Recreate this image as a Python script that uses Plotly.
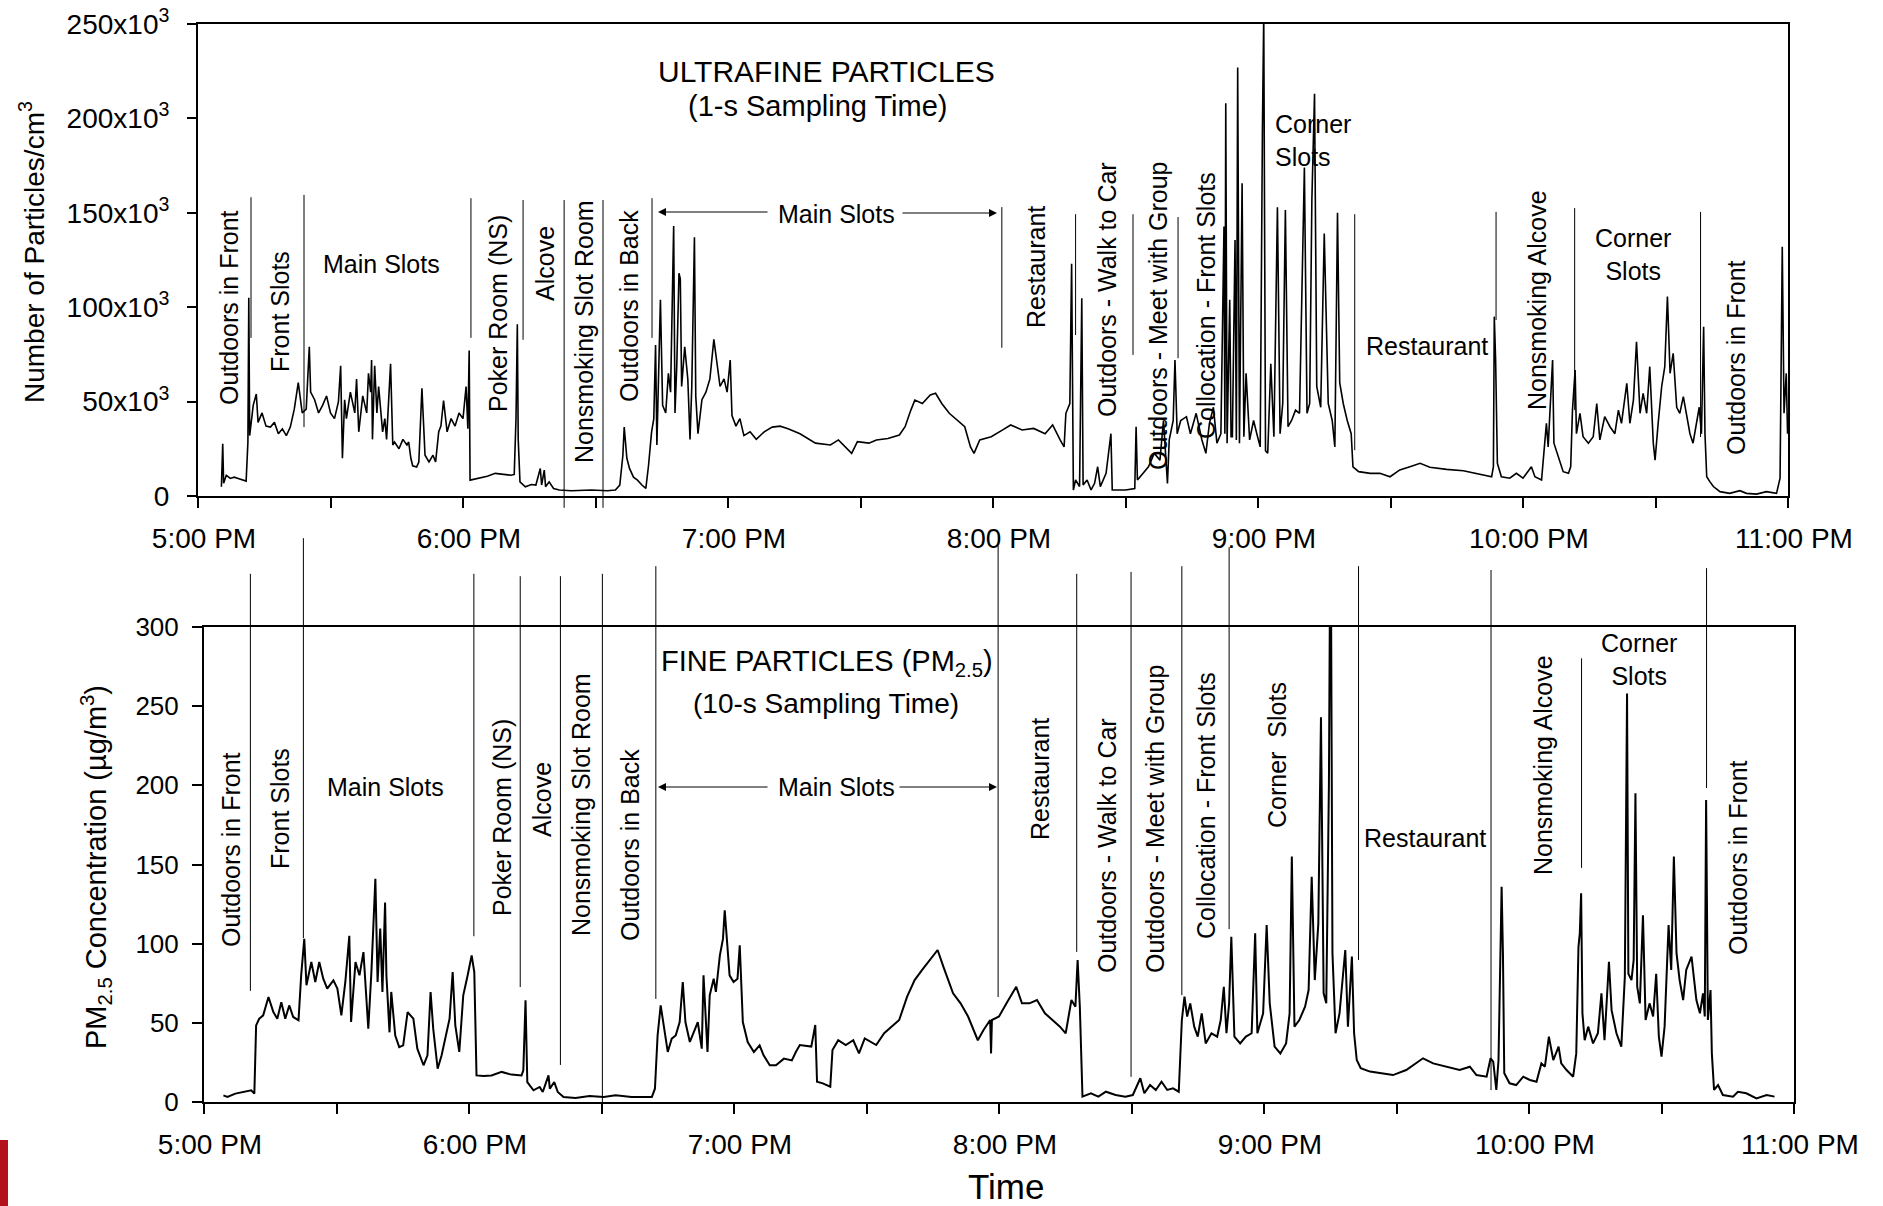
import pandas as pd
import plotly.graph_objects as go

W, H = 1883, 1206
START = pd.Timestamp("2024-01-01 17:00")
FONT = "Arial, Liberation Sans, sans-serif"

# Ultrafine particle counts: (minutes after 5:00 PM, particles/cm3 in thousands)
uf_readings = [
    (5.3, 4.9), (5.6, 27.7), (5.8, 6.7), (6.4, 11), (7.3, 9.3), (8.2, 10), (9.1, 9.3), (10.9, 7.9),
    (11.3, 28.6), (11.5, 105), (11.7, 32), (12.5, 48), (13.2, 54), (13.6, 39), (14.5, 44), (15.4, 37),
    (16.4, 36.5), (17.3, 39), (18.2, 33), (19.1, 35.6), (20, 32), (20.9, 36.5), (21.8, 46), (22.7, 60),
    (23.6, 44), (24.5, 46), (25.2, 79), (25.5, 55), (26.4, 51), (27.3, 44), (28.2, 48), (29.1, 53),
    (30, 44), (30.9, 41), (31.8, 50), (32.3, 69), (32.7, 20), (33.2, 51), (33.6, 41), (34.5, 55),
    (35.5, 44), (35.9, 62), (36.4, 34), (37.3, 53), (38.2, 44), (38.6, 65), (39.1, 55), (39.3, 72),
    (39.5, 30), (40, 69), (40.5, 44), (40.9, 58), (41.8, 34), (42.3, 41), (42.7, 30), (43.6, 70),
    (44.1, 27), (44.5, 28.6), (45.5, 25), (46.4, 30), (47.3, 27), (47.7, 28.6), (48.2, 20), (48.6, 16),
    (49.5, 15.4), (50, 18), (50.7, 57), (51.4, 21.6), (52.3, 18), (53.2, 21.6), (53.8, 18), (54.5, 34),
    (55, 37), (55.6, 50.5), (56.4, 34), (57.3, 41), (58.2, 37), (59.1, 44), (60, 41), (60.7, 58),
    (61.1, 35.6), (61.4, 77), (61.6, 8.4), (63.6, 9.3), (65.5, 10.5), (67.3, 12), (69.1, 11.4), (70.9, 11),
    (71.6, 11.4), (72, 41), (72.3, 91), (72.5, 30), (72.9, 7.5), (74.1, 4.9), (75.5, 6.1), (76.5, 5.8),
    (77.5, 14.6), (77.8, 5.8), (78.4, 13.7), (78.7, 4.9), (79.5, 7.5), (80.5, 4), (81.8, 3.2), (84.5, 2.8),
    (89.1, 3.2), (92.7, 2.8), (94.5, 3.2), (95.5, 5.8), (96.2, 21.6), (96.5, 36.5), (97.1, 20), (97.7, 14.6),
    (98.6, 10), (99.5, 8.4), (100.5, 5.8), (101.4, 4), (102, 16), (102.7, 34), (103.2, 41), (103.6, 80),
    (103.9, 27), (104.7, 104), (105.2, 48), (105.9, 44), (106.5, 65), (107, 55), (107.7, 143), (108, 44),
    (108.4, 69), (108.9, 118), (109.2, 115), (109.5, 58), (110.2, 79), (110.9, 62), (111.4, 30), (111.8, 58),
    (112.4, 137), (112.7, 53), (113.2, 33), (114.1, 51), (115, 55), (115.9, 62), (116.8, 83), (117.5, 69),
    (118.2, 58), (119.1, 62), (119.8, 55), (120.5, 72), (120.9, 42.6), (121.8, 37), (122.7, 41), (123.6, 32),
    (125, 34), (126.4, 30), (128.2, 34), (130, 36.5), (131.8, 37), (133.6, 35.6), (135.5, 34), (136.3, 33),
    (139.8, 28), (143.2, 27), (145, 29.7), (148, 22.6), (149.3, 28.8), (151.9, 28), (153.6, 29.7), (156.2, 30.5),
    (158.8, 32.3), (160.1, 36.7), (161.4, 45.5), (162.3, 50.8), (164, 49), (165.8, 53.5), (167, 54.4), (168.4, 49),
    (170.1, 43.8), (171.8, 40.3), (173.6, 36.7), (174.9, 26), (175.7, 22.6), (177, 29.7), (179.6, 31.4), (182.2, 35),
    (184, 37.6), (186.6, 35), (189.2, 35.8), (191.8, 33), (193.5, 37.6), (195.2, 29.7), (196.1, 26), (196.5, 43.8),
    (197.4, 49), (197.8, 123), (198.2, 3.2), (198.7, 8.5), (199.6, 5), (200.1, 104.7), (200.4, 5.8), (201.3, 8.5),
    (202.2, 3.2), (203, 6.7), (203.7, 15.5), (204.3, 5), (205.6, 12), (206.7, 33), (207, 3.2), (208.2, 3.2),
    (210, 3.2), (212.1, 4), (212.4, 36.7), (212.7, 8.5), (213.9, 12), (215.2, 15.5), (216.5, 22.6), (217.8, 19),
    (218.6, 40), (219.5, 6.7), (219.9, 29.7), (220.8, 40), (221.2, 72), (221.7, 33), (222.5, 40), (223.8, 42),
    (224.7, 33), (226, 43.8), (227.3, 29.7), (228.2, 22.6), (229, 38.5), (229.9, 47), (230.7, 28), (231.6, 33),
    (232.3, 142.7), (232.5, 33), (232.7, 208), (233, 28), (233.6, 104), (233.9, 31.4), (234.2, 31.4), (234.8, 135.6),
    (235.1, 29.7), (235.4, 227), (235.8, 28), (236.4, 165.6), (236.8, 31.4), (237.3, 65), (238.1, 29.7), (239, 40),
    (239.9, 31.4), (240.5, 26), (241, 194), (241.3, 255), (241.7, 24), (242.2, 22.6), (242.9, 70), (243.6, 31.4),
    (244.4, 153), (245, 33), (245.6, 49), (246.2, 151.5), (246.8, 36.7), (247.6, 40), (248.5, 45.5), (249.4, 43.8),
    (250.5, 174), (251.1, 43.8), (251.7, 49), (252.2, 157), (252.8, 213), (253.3, 58), (254.2, 47), (255, 139),
    (255.9, 49), (256.8, 40), (257.4, 26), (258, 150), (258.5, 60), (259.3, 49), (260.2, 40), (261.1, 33),
    (261.5, 15.5), (262.8, 12.9), (265.4, 12), (267.6, 12), (269.9, 10.2), (272.1, 13.8), (274.4, 15.5), (276.7, 17.3),
    (278.9, 15.2), (282.7, 14.1), (286.5, 13.4), (290.2, 11.7), (292.9, 10.2), (293.3, 15.5), (293.5, 95), (293.8, 72),
    (294.2, 17.3), (295.1, 10.2), (297, 9.4), (298.5, 12), (300, 9.4), (301.9, 15.5), (302.7, 10.2), (304.2, 8.5),
    (305, 28), (305.3, 38.5), (305.7, 26), (306.2, 47), (306.7, 72), (307, 28), (308, 20.8), (309.1, 12.9),
    (310.3, 12), (310.8, 15.5), (311.2, 45.5), (311.8, 66.7), (312.1, 33), (312.9, 43.8), (313.6, 31.4), (314.8, 28),
    (315.9, 31.4), (316.7, 49), (317.4, 29.7), (318.5, 42), (319.7, 36.7), (320.8, 33), (321.6, 45.5), (322.3, 38.5),
    (323.5, 59.7), (324.2, 38.5), (325, 50.8), (325.7, 81.7), (326.5, 43.8), (327.2, 54.4), (328, 43.8), (328.7, 68.5),
    (329.5, 28), (329.9, 19), (330.6, 38.5), (331.4, 58), (332.1, 68.5), (332.7, 105.6), (333.3, 65), (334, 75.6),
    (334.8, 47), (335.5, 43.8), (336.3, 52.6), (337, 43.8), (337.8, 33), (338.5, 28), (339.3, 40.3), (339.9, 47),
    (340.4, 33), (340.9, 89.7), (341.2, 33), (341.6, 10.2), (342.3, 7.6), (343.1, 5), (344.6, 2.3), (346.8, 1.4),
    (349.1, 2.8), (350.6, 1.4), (352.9, 1), (355.1, 2.3), (357.4, 1.4), (358.2, 9.4), (358.7, 132), (359.1, 43.8),
    (359.6, 65), (359.9, 33),
]

# PM2.5 mass concentration: (minutes after 5:00 PM, ug/m3)
pm_readings = [
    (4.4, 4.2), (5.3, 3.2), (7.1, 5.3), (8.9, 6.3), (10.7, 7.4), (11.4, 5.3), (11.8, 48.4), (12.5, 52.6),
    (13.4, 54.7), (14.6, 66.3), (15.7, 56.8), (16.6, 52.6), (17.5, 63), (18.4, 52.6), (19.3, 61), (20.2, 53.7),
    (21.4, 51.6), (22, 80), (22.7, 103), (23.2, 73.7), (24.3, 88.4), (25.2, 75.8), (26.1, 88.4), (27, 77.9),
    (27.9, 71.6), (29.3, 76.8), (30.2, 71.6), (31.1, 54.7), (32, 75.8), (32.9, 105), (33.3, 50.5), (34.3, 88.4),
    (35.2, 80), (36.1, 94.7), (37.2, 46.3), (37.9, 82), (38.8, 141), (39.3, 75.8), (39.9, 109.5), (40.4, 69.5),
    (41, 126), (41.3, 80), (42, 44), (42.4, 69.5), (43.3, 42), (44.2, 34.7), (45.1, 35.8), (46.1, 56.8),
    (47.4, 52.6), (48.3, 33.7), (49.7, 23.2), (50.6, 29.5), (51.3, 69.5), (51.9, 46.3), (52.9, 21), (53.8, 29.5),
    (54.7, 42), (55.6, 52.6), (56.3, 82), (56.9, 48.4), (57.8, 31.6), (58.7, 67.4), (59.7, 80), (60.6, 92.6),
    (61.2, 82), (61.7, 16.8), (63.3, 16.4), (65.1, 16.8), (67.4, 19), (69.6, 17.3), (71.9, 16.8), (72.3, 20),
    (72.8, 64.2), (73.2, 12.6), (74.6, 7.4), (76, 9.5), (76.7, 6.3), (78, 16.8), (78.3, 8.4), (79.3, 12.6),
    (80.1, 6.3), (81.4, 3.2), (84.1, 2.5), (87.3, 3.8), (90.5, 3.2), (93.2, 4.2), (96.8, 3.2), (101.4, 3.2),
    (102.1, 8.4), (102.7, 42), (103.4, 61), (104.1, 48.4), (105, 31.6), (105.9, 40), (106.8, 42), (107.7, 50.5),
    (108.4, 75.8), (109, 50.5), (110, 37.9), (110.9, 44.2), (111.8, 50.5), (112.7, 33.7), (113.1, 80), (114, 31.6),
    (114.5, 67.4), (115.4, 77.9), (115.9, 69.5), (116.8, 92.6), (117.5, 103), (117.9, 121), (118.4, 99), (119, 80),
    (119.9, 75.8), (120.8, 77.9), (121.3, 99), (122, 50.5), (123.1, 37.9), (124.5, 31.6), (125.8, 35.8), (126.7, 29.5),
    (128.1, 23.2), (129.5, 23.2), (131.3, 27.4), (133.1, 26.3), (134, 31.6), (134.9, 36), (137.5, 35), (138.4, 48.6),
    (138.8, 12.8), (140.1, 11.8), (141.8, 9.7), (142.3, 32.8), (143.6, 39), (145.3, 36), (147, 39), (148.3, 30.7),
    (149.6, 40.2), (152.2, 36), (154, 43.4), (155.7, 47.6), (157.4, 51.8), (159.2, 66.5), (160.9, 77), (162.6, 83.4),
    (164.8, 91.8), (166.1, 96), (167.4, 85.5), (169.6, 68.6), (171.3, 62.3), (173, 54), (175.2, 39), (176.5, 45.5),
    (178, 51.8), (178.2, 30.7), (178.4, 51.8), (180, 54), (181.7, 62.3), (183.9, 72.8), (185.2, 62.3), (186.9, 62.3),
    (188.6, 64.4), (190.4, 56), (192.1, 51.8), (193.8, 47.6), (195.1, 43.4), (196.4, 64.4), (197.3, 60.2), (197.8, 89.7),
    (198.3, 60.2), (198.9, 3.4), (200.8, 5.5), (202.5, 3.4), (204.2, 6.5), (206.4, 4.4), (208.6, 3.4), (210.3, 4.4),
    (212, 15), (212.9, 5.5), (214.2, 10.7), (215.5, 7.6), (216.8, 12.8), (218.1, 7.6), (219.4, 8.6), (220.7, 6.5),
    (221.4, 51.8), (222, 66.5), (222.6, 54), (223.3, 62.3), (224.2, 47.6), (225, 41.3), (225.9, 56), (226.8, 37),
    (228.1, 43.4), (229.4, 41.3), (230.2, 51.8), (230.9, 72.8), (231.5, 43.4), (232.1, 62.3), (232.6, 104.4), (233.3, 41.3),
    (234.6, 37), (235.9, 41.3), (237.2, 43.4), (238, 106.5), (238.5, 43.4), (239.8, 56), (240.6, 111.8), (241.3, 62.3),
    (242.4, 35), (243.7, 30.7), (245, 37), (245.8, 56), (246.3, 155), (246.9, 47.6), (248, 51.8), (249.3, 60.2),
    (250.1, 70.7), (250.8, 142.3), (251.5, 77), (252.3, 112.8), (252.9, 243), (253.5, 68.6), (254.1, 62.3), (254.7, 201),
    (254.9, 305), (255.2, 305), (255.5, 94), (256.2, 43.4), (257.1, 56), (258.4, 96), (259, 47.6), (259.9, 91.8),
    (260.4, 43.4), (261, 26.5), (261.9, 21.3), (264, 19.2), (266.6, 18.1), (269.2, 17), (272.2, 20.2), (274.5, 24.4),
    (276, 27.6), (278.3, 24.4), (281.3, 22.3), (284.3, 20.2), (286.6, 22.3), (288.1, 17), (290.4, 16), (291.3, 27.6),
    (291.9, 25.5), (292.6, 7.6), (293.1, 26.5), (293.5, 104.4), (293.8, 136), (294.1, 94), (294.4, 18.1), (295.6, 11.8),
    (297.1, 10.7), (298.7, 16), (300.2, 13.9), (301.7, 12.8), (302.8, 24.4), (303.6, 22.3), (304.5, 41.3), (305.5, 26.5),
    (306.7, 35), (307.3, 24.4), (308.5, 20.2), (310, 16), (310.7, 30.7), (311.2, 98), (311.5, 106.5), (311.8, 131.8),
    (312.1, 56), (312.6, 39), (313.4, 47.6), (314.5, 37), (315.6, 43.4), (316.4, 68.6), (317.1, 39), (318.1, 88.6),
    (318.7, 58), (319.8, 43.4), (320.9, 35), (321.7, 79), (322.2, 258), (322.5, 81), (323.2, 77), (323.7, 89.7),
    (324.1, 195), (324.5, 72.8), (325.1, 62.3), (325.8, 118), (326.4, 51.8), (327.3, 62.3), (328.1, 54), (328.8, 81),
    (329.4, 41.3), (330, 28.6), (330.7, 47.6), (331.6, 111.8), (332.2, 83.4), (332.8, 155), (333.4, 94), (334.1, 77),
    (334.9, 64.4), (335.6, 83.4), (336.8, 91.8), (337.9, 64.4), (338.7, 56), (339.4, 68.6), (339.8, 54), (340.1, 190.7),
    (340.5, 51.8), (341.1, 70.7), (341.4, 30.7), (341.9, 7.6), (342.8, 10.7), (343.9, 4.4), (346.2, 3.4), (347.3, 6.5),
    (349.2, 5.5), (351.5, 2.3), (353.8, 4.4), (355.6, 3.4),
]

# Location changes (minutes after 5:00 PM)
uf_breaks = [12.0, 24.0, 61.8, 73.6, 82.9, 91.7, 102.8, 182.0, 198.7, 211.7, 221.9, 261.9, 293.9, 311.7, 340.2]
pm_breaks = [10.5, 22.5, 61.1, 71.6, 80.7, 90.2, 102.3, 179.8, 197.6, 209.9, 221.4, 232.1, 261.4, 291.4, 311.9, 340.2]

# Axis ticks
tick_minutes = list(range(0, 361, 30))
tick_text = ["5:00 PM", "", "6:00 PM", "", "7:00 PM", "", "8:00 PM", "",
             "9:00 PM", "", "10:00 PM", "", "11:00 PM"]
uf_tickvals = [0, 50000, 100000, 150000, 200000, 250000]
uf_ticktext = ["0", "50x10<sup>3</sup>", "100x10<sup>3</sup>", "150x10<sup>3</sup>",
               "200x10<sup>3</sup>", "250x10<sup>3</sup>"]
pm_tickvals = [0, 50, 100, 150, 200, 250, 300]

# Vertical extent of each separator line (fraction of the panel height)
uf_break_span = [(0.633, 0.335), (0.638, 0.146), (0.631, 0.335), (0.627, 0.331), (0.627, -0.025),
                 (0.627, -0.025), (0.631, 0.335), (0.612, 0.314), (0.597, 0.341), (0.597, 0.299),
                 (0.591, 0.292), (0.597, 0.097), (0.602, 0.373), (0.610, 0.182), (0.602, 0.125)]
pm_break_span = [(1.112, 0.234), (1.187, 0.345), (1.112, 0.349), (1.107, 0.242), (1.107, 0.078),
                 (1.112, 0.0), (1.128, 0.217), (1.171, 0.221), (1.112, 0.316), (1.116, 0.053),
                 (1.128, 0.225), (1.168, 0.364), (1.128, 0.299), (1.120, 0.025), (0.934, 0.493),
                 (1.124, 0.661)]


def at(minute):
    return START + pd.Timedelta(minutes=minute)


def px(x):
    return x / W


def py(y):
    return 1 - y / H


uf_time = [at(m) for m, _ in uf_readings]
uf_count = [v * 1000 for _, v in uf_readings]
pm_time = [at(m) for m, _ in pm_readings]
pm_value = [v for _, v in pm_readings]

fig = go.Figure()
fig.add_trace(go.Scatter(x=uf_time, y=uf_count, mode="lines", xaxis="x", yaxis="y",
                         line=dict(color="black", width=1.6), hoverinfo="skip"))
fig.add_trace(go.Scatter(x=pm_time, y=pm_value, mode="lines", xaxis="x2", yaxis="y2",
                         line=dict(color="black", width=2), hoverinfo="skip"))

shapes = []
for m, (top, bot) in zip(uf_breaks, uf_break_span):
    shapes.append(dict(type="line", xref="x", yref="y domain", x0=at(m), x1=at(m), y0=bot, y1=top,
                       line=dict(color="black", width=1)))
for m, (top, bot) in zip(pm_breaks, pm_break_span):
    shapes.append(dict(type="line", xref="x2", yref="y2 domain", x0=at(m), x1=at(m), y0=bot, y1=top,
                       line=dict(color="black", width=1)))
# corner decoration
shapes.append(dict(type="rect", xref="paper", yref="paper", x0=0, x1=px(8), y0=0, y1=py(1140),
                   fillcolor="#b3121b", line=dict(width=0), layer="above"))

annotations = []


def label(text, x, y, size=25, rot=False, anchor="center", align="center"):
    annotations.append(dict(text=text, x=px(x), y=py(y), xref="paper", yref="paper",
                            showarrow=False, textangle=-90 if rot else 0,
                            xanchor=anchor, yanchor="middle", align=align,
                            font=dict(family=FONT, size=size, color="black")))


def arrow(head_x, tail_x, y):
    annotations.append(dict(text="", x=px(head_x), y=py(y), xref="paper", yref="paper",
                            ax=tail_x - head_x, ay=0, showarrow=True, arrowhead=2,
                            arrowsize=1.6, arrowwidth=1, arrowcolor="black", standoff=0))


# Upper panel labels
label("ULTRAFINE PARTICLES", 826, 71, size=30)
label("(1-s Sampling Time)", 817, 106, size=29)
label("Outdoors in Front", 229, 308, rot=True)
label("Front Slots", 280, 312, rot=True)
label("Main Slots", 381, 264)
label("Poker Room (NS)", 498, 314, rot=True)
label("Alcove", 545, 264, rot=True)
label("Nonsmoking Slot Room", 584, 332, rot=True)
label("Outdoors in Back", 629, 306, rot=True)
label("Main Slots", 836, 214)
arrow(658, 769, 212)
arrow(997, 901, 213)
label("Restaurant", 1036, 267, rot=True)
label("Outdoors - Walk to Car", 1107, 290, rot=True)
label("Outdoors - Meet with Group", 1158, 316, rot=True)
label("Collocation - Front Slots", 1206, 306, rot=True)
label("Corner<br>Slots", 1273, 140, anchor="left", align="left")
label("Restaurant", 1427, 346)
label("Nonsmoking Alcove", 1537, 300, rot=True)
label("Corner<br>Slots", 1633, 255)
label("Outdoors in Front", 1736, 358, rot=True)

# Lower panel labels
label("FINE PARTICLES (PM<sub>2.5</sub>)", 827, 663, size=29)
label("(10-s Sampling Time)", 826, 703, size=28)
label("Outdoors in Front", 231, 850, rot=True)
label("Front Slots", 280, 809, rot=True)
label("Main Slots", 385, 787)
label("Poker Room (NS)", 502, 818, rot=True)
label("Alcove", 542, 800, rot=True)
label("Nonsmoking Slot Room", 581, 805, rot=True)
label("Outdoors in Back", 630, 845, rot=True)
label("Main Slots", 836, 787)
arrow(658, 769, 787)
arrow(997, 898, 787)
label("Restaurant", 1040, 779, rot=True)
label("Outdoors - Walk to Car", 1107, 846, rot=True)
label("Outdoors - Meet with Group", 1155, 819, rot=True)
label("Collocation - Front Slots", 1206, 806, rot=True)
label("Corner  Slots", 1277, 755, rot=True)
label("Restaurant", 1425, 838)
label("Nonsmoking Alcove", 1543, 765, rot=True)
label("Corner<br>Slots", 1639, 660)
label("Outdoors in Front", 1738, 858, rot=True)

# Axis titles
label("Number of Particles/cm<sup>3</sup>", 32, 252, size=28, rot=True)
label("PM<sub>2.5</sub> Concentration (µg/m<sup>3</sup>)", 96, 867, size=29, rot=True)
label("Time", 1006, 1186, size=35)

axis_common = dict(showline=True, linecolor="black", linewidth=2, mirror=True, ticks="outside",
                   tickwidth=2, tickcolor="black", showgrid=False, zeroline=False, automargin=False)
x_font = dict(family=FONT, size=28, color="black")
x_ticks = [at(m) for m in tick_minutes]

fig.update_layout(
    width=W, height=H, margin=dict(l=0, r=0, t=0, b=0, autoexpand=False),
    paper_bgcolor="white", plot_bgcolor="white", showlegend=False,
    shapes=shapes, annotations=annotations,
    xaxis=dict(axis_common, domain=[px(198), px(1788)], anchor="y", type="date",
               range=[at(0), at(360)], tickvals=x_ticks, ticktext=tick_text, tickfont=x_font,
               ticklen=10, ticklabelstandoff=6, ticklabelshift=6),
    yaxis=dict(axis_common, domain=[py(496), py(24)], anchor="x", range=[0, 250000],
               tickvals=uf_tickvals, ticktext=uf_ticktext, ticklen=9, ticklabelstandoff=12,
               tickfont=dict(family=FONT, size=28, color="black")),
    xaxis2=dict(axis_common, domain=[px(204), px(1794)], anchor="y2", type="date",
                range=[at(0), at(360)], tickvals=x_ticks, ticktext=tick_text, tickfont=x_font,
                ticklen=10, ticklabelstandoff=6, ticklabelshift=6),
    yaxis2=dict(axis_common, domain=[py(1102), py(627)], anchor="x2", range=[0, 300],
                tickvals=pm_tickvals, ticklen=10, ticklabelstandoff=8,
                tickfont=dict(family=FONT, size=26, color="black")),
)

fig.write_html("out.html")
